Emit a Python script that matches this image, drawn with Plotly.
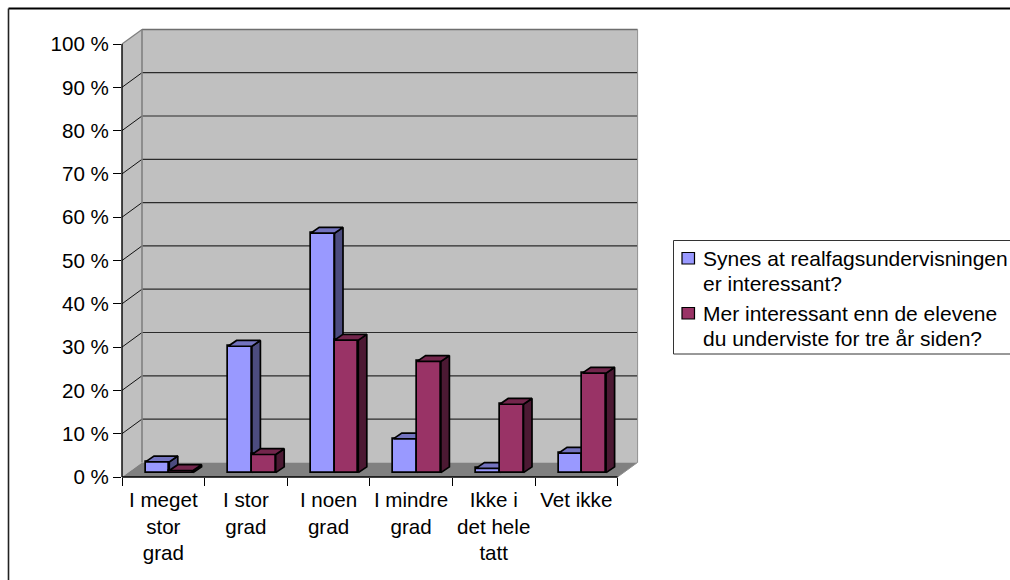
import plotly.graph_objects as go

# Survey answers, percent of respondents
categories = ["I meget<br>stor<br>grad", "I stor<br>grad", "I noen<br>grad",
              "I mindre<br>grad", "Ikke i<br>det hele<br>tatt", "Vet ikke"]
series_a_name = "Synes at realfagsundervisningen<br>er interessant?"
series_b_name = "Mer interessant enn de elevene<br>du underviste for tre år siden?"
series_a = [2.5, 29.2, 55.3, 7.8, 1.0, 4.5]
series_b = [0.5, 4.2, 30.6, 25.7, 15.8, 23.0]
y_ticks = [0, 10, 20, 30, 40, 50, 60, 70, 80, 90, 100]
y_tick_labels = ["0 %", "10 %", "20 %", "30 %", "40 %", "50 %", "60 %", "70 %", "80 %", "90 %", "100 %"]

FONT = "Liberation Sans, Arial, sans-serif"
FONT_SIZE = 20.6
LEGEND_FONT_SIZE = 21
W, H = 1010, 580
ML, MR, MT, MB = 122, 373, 30, 103
PX_PER_CAT = 82.6
PX_PER_PCT = 4.33
X_MIN = -0.5
X_MAX = X_MIN + (W - ML - MR) / PX_PER_CAT
Y_MAX = (H - MT - MB) / PX_PER_PCT

# Oblique depth of the walls and of the bars, in axis units
WALL_DX = 20 / PX_PER_CAT
WALL_DY = 14.6 / PX_PER_PCT
BAR_BASE = 1.0
BAR_SHIFT = 6.0 / PX_PER_CAT
BAR_W = 23.8 / PX_PER_CAT
BAR_DX = 8.5 / PX_PER_CAT
BAR_DY = 5.8 / PX_PER_PCT

X_FRONT_END = len(categories) - 0.5
centres = list(range(len(categories)))


def px(x):
    return (x - X_MIN) / (X_MAX - X_MIN)


def py(y):
    return y / Y_MAX


def page_x(p):
    return (p - ML) / (W - ML - MR)


def page_y(p):
    return (H - MB - p) / (H - MT - MB)


def poly(points):
    path = "M " + " L ".join(f"{a:.5f},{b:.5f}" for a, b in points) + " Z"
    return path


def wall(points, fill, line_color=None, line_width=0):
    return dict(type="path", xref="paper", yref="paper", layer="below",
                path=poly([(px(a), py(b)) for a, b in points]),
                fillcolor=fill, line=dict(color=line_color or fill, width=line_width))


def rule(x0, y0, x1, y1, color, width, layer="below"):
    return dict(type="line", xref="paper", yref="paper", layer=layer,
                x0=px(x0), y0=py(y0), x1=px(x1), y1=py(y1),
                line=dict(color=color, width=width))


shapes = [
    wall([(X_MIN + WALL_DX, WALL_DY), (X_FRONT_END + WALL_DX, WALL_DY),
          (X_FRONT_END + WALL_DX, 100 + WALL_DY), (X_MIN + WALL_DX, 100 + WALL_DY)], "#c0c0c0"),
    wall([(X_MIN, 0), (X_MIN + WALL_DX, WALL_DY),
          (X_MIN + WALL_DX, 100 + WALL_DY), (X_MIN, 100)], "#c0c0c0"),
    wall([(X_MIN, 0), (X_MIN + WALL_DX, WALL_DY),
          (X_FRONT_END + WALL_DX, WALL_DY), (X_FRONT_END, 0)], "#808080"),
]
for t in y_ticks[1:]:
    top = t == y_ticks[-1]
    color = "#6e6e6e" if top else "#2b2b2b"
    shapes.append(rule(X_MIN + WALL_DX, t + WALL_DY, X_FRONT_END + WALL_DX, t + WALL_DY, color, 1.5 if top else 1.2))
    shapes.append(rule(X_MIN, t, X_MIN + WALL_DX, t + WALL_DY, "#808080" if top else "#111111", 1.3 if top else 1))
shapes += [
    rule(X_MIN + WALL_DX, WALL_DY, X_MIN + WALL_DX, 100 + WALL_DY, "#808080", 1.6),
    rule(X_FRONT_END + WALL_DX, WALL_DY, X_FRONT_END + WALL_DX, 100 + WALL_DY, "#909090", 1),
    rule(X_FRONT_END, 0, X_FRONT_END + WALL_DX, WALL_DY, "#909090", 1),
    rule(X_MIN, 0, X_MIN, 100, "#000000", 1.4),
    rule(X_MIN, 0, X_FRONT_END, 0, "#000000", 1.4),
]

# Outer chart frame, running off the page to the right and bottom
shapes += [
    dict(type="line", xref="paper", yref="paper", layer="below",
         x0=page_x(8.5), y0=page_y(8.5), x1=page_x(W + 5), y1=page_y(8.5),
         line=dict(color="#000000", width=2)),
    dict(type="line", xref="paper", yref="paper", layer="below",
         x0=page_x(8.5), y0=page_y(8.5), x1=page_x(8.5), y1=page_y(H + 5),
         line=dict(color="#222222", width=1.6)),
]

# Legend box and swatches
LEGEND_LEFT = 673.5
LEGEND_TOP = 240.5
LEGEND_BOTTOM = 354
LEGEND_LINE_STEP = 25
shapes.append(dict(type="rect", xref="paper", yref="paper", layer="below",
                   x0=page_x(LEGEND_LEFT), y0=page_y(LEGEND_TOP),
                   x1=page_x(W + 5), y1=page_y(LEGEND_BOTTOM),
                   fillcolor="#ffffff", line=dict(color="#333333", width=1)))


def faces(values, left_edge):
    """Oblique side and top faces for one series, computed from its values."""
    side_x, side_y, top_x, top_y = [], [], [], []
    for c, v in zip(centres, values):
        xl = c + left_edge
        xr = xl + BAR_W
        yt = BAR_BASE + v
        side_x += [xr, xr + BAR_DX, xr + BAR_DX, xr, xr, None]
        side_y += [BAR_BASE, BAR_BASE + BAR_DY, yt + BAR_DY, yt, BAR_BASE, None]
        top_x += [xl, xr, xr + BAR_DX, xl + BAR_DX, xl, None]
        top_y += [yt, yt, yt + BAR_DY, yt + BAR_DY, yt, None]
    return side_x, side_y, top_x, top_y


def add_series(fig, values, name, left_edge, front, top, side, xa, ya):
    side_x, side_y, top_x, top_y = faces(values, left_edge)
    fig.add_trace(go.Bar(x=centres, y=values, base=BAR_BASE, width=BAR_W, offset=left_edge,
                         name=name.replace("<br>", " "), xaxis=xa, yaxis=ya, showlegend=False,
                         marker=dict(color=front, line=dict(color="#000000", width=1.7))))
    for xs, ys, fill in ((side_x, side_y, side), (top_x, top_y, top)):
        fig.add_trace(go.Scatter(x=xs, y=ys, mode="lines", fill="toself", fillcolor=fill,
                                 line=dict(color="#000000", width=1.7), xaxis=xa, yaxis=ya,
                                 hoverinfo="skip", showlegend=False, cliponaxis=False))


fig = go.Figure()
add_series(fig, series_a, series_a_name, BAR_SHIFT - BAR_W, "#9999ff", "#7373bf", "#4c4c7f", "x", "y")
add_series(fig, series_b, series_b_name, BAR_SHIFT, "#993366", "#73264c", "#4c1933", "x2", "y2")

annotations = []
for name, color, centre_px in ((series_a_name, "#9999ff", 258), (series_b_name, "#993366", 313)):
    shapes.append(dict(type="rect", xref="paper", yref="paper", layer="below",
                       x0=page_x(682), y0=page_y(centre_px - 5.5), x1=page_x(694.5), y1=page_y(centre_px + 6),
                       fillcolor=color, line=dict(color="#000000", width=1.2)))
    for i, line in enumerate(name.split("<br>")):
        annotations.append(dict(text=line, xref="paper", yref="paper", x=page_x(702),
                                y=page_y(centre_px + i * LEGEND_LINE_STEP),
                                xanchor="left", yanchor="middle", align="left", showarrow=False,
                                borderpad=0, font=dict(family=FONT, size=LEGEND_FONT_SIZE, color="#000000")))

fig.update_layout(
    width=W, height=H, autosize=False,
    margin=dict(l=ML, r=MR, t=MT, b=MB, pad=0),
    paper_bgcolor="#ffffff", plot_bgcolor="rgba(0,0,0,0)",
    barmode="overlay", bargap=0, showlegend=False,
    font=dict(family=FONT, size=FONT_SIZE, color="#000000"),
    shapes=shapes, annotations=annotations,
    xaxis=dict(type="linear", range=[X_MIN, X_MAX], tickmode="array", tickvals=centres,
               ticktext=categories, ticks="outside", ticklen=4, tickcolor="rgba(0,0,0,0)",
               showgrid=False, zeroline=False, showline=False, fixedrange=True),
    yaxis=dict(range=[0, Y_MAX], tickmode="array", tickvals=y_ticks, ticktext=y_tick_labels,
               ticks="outside", ticklen=8, tickwidth=1.2, tickcolor="#000000",
               showgrid=False, zeroline=False, showline=False, fixedrange=True),
    # Second axis pair keeps the later series in front and carries the category boundary ticks
    xaxis2=dict(type="linear", overlaying="x", anchor="y2", side="bottom", range=[X_MIN, X_MAX],
                tickmode="array", tickvals=[c - 0.5 for c in centres] + [X_FRONT_END],
                ticktext=[""] * (len(centres) + 1), ticks="outside", ticklen=8, tickwidth=1.2,
                tickcolor="#000000", showgrid=False, zeroline=False, showline=False, fixedrange=True),
    yaxis2=dict(overlaying="y", anchor="x2", range=[0, Y_MAX], visible=False, fixedrange=True),
)

fig.write_html("out.html")
